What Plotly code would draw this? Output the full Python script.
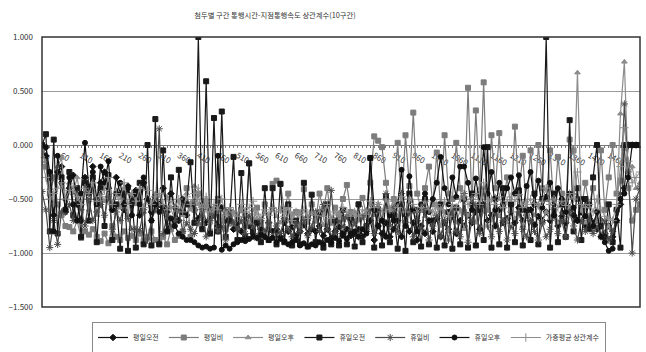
import plotly.graph_objects as go

CATS = list(range(10, 1550, 10))

S_NAMES = ["평일오전", "평일비", "평일오후", "휴일오전", "휴일비", "휴일오후", "가중평균 상관계수"]

WD_AM = [
    -0.05, -0.10, -0.30, -0.65, -0.25, -0.20, -0.62, -0.40, -0.28, -0.55,
    -0.70, -0.30, -0.45, -0.20, -0.50, -0.35, -0.25, -0.40, -0.60, -0.30,
    -0.45, -0.60, -0.38, -0.55, -0.42, -0.65, -0.35, -0.50, -0.62, -0.48,
    -0.55, -0.40, -0.62, -0.45, -0.58, -0.70, -0.50, -0.65, -0.55, -0.60,
    -0.68, -0.55, -0.72, -0.60, -0.65, -0.75, -0.58, -0.70, -0.62, -0.78,
    -0.72, -0.80, -0.66, -0.75, -0.82, -0.70, -0.78, -0.85, -0.72, -0.80,
    -0.78, -0.85, -0.72, -0.80, -0.76, -0.84, -0.80, -0.74, -0.82, -0.78,
    -0.80, -0.75, -0.84, -0.78, -0.86, -0.80, -0.76, -0.82, -0.78, -0.84,
    -0.82, -0.78, -0.85, -0.80, -0.70, -0.88, -0.75, -0.82, -0.72, -0.85,
    -0.78, -0.70, -0.85, -0.65, -0.80, -0.72, -0.88, -0.75, -0.82, -0.70,
    -0.80, -0.68, -0.85, -0.72, -0.78, -0.66, -0.82, -0.70, -0.75, -0.65,
    -0.72, -0.62, -0.78, -0.55, -0.70, -0.65, -0.75, -0.60, -0.72, -0.68,
    -0.62, -0.72, -0.58, -0.70, -0.65, -0.60, -0.74, -0.66, -0.70, -0.62,
    -0.70, -0.60, -0.75, -0.66, -0.72, -0.58, -0.65, -0.70, -0.62, -0.75,
    -0.68, -0.72, -0.78, -0.70, -0.82, -0.75, -0.85, -0.70, -0.55, -0.40,
    0.00, 0.00, 0.00, 0.00,
]

WD_OFF = [
    -0.05, -0.20, -0.45, -0.30, -0.55, -0.65, -0.75, -0.76, -0.80, -0.70,
    -0.86, -0.80, -0.83, -0.78, -0.85, -0.89, -0.82, -0.91, -0.75, -0.85,
    -0.88, -0.80, -0.86, -0.84, -0.88, -0.82, -0.89, -0.85, -0.80, -0.88,
    -0.90, -0.85, -0.92, -0.78, -0.88, -0.84, -0.80, -0.40, -0.85, -0.60,
    -0.45, -0.75, -0.55, -0.80, -0.62, -0.50, -0.70, -0.78, -0.65, -0.72,
    -0.68, -0.60, -0.75, -0.17, -0.70, -0.58, -0.72, -0.55, -0.75, -0.36,
    -0.33, -0.36, -0.60, -0.45, -0.70, -0.62, -0.75, -0.41, -0.68, -0.55,
    -0.70, -0.45, -0.60, -0.40, -0.72, -0.58, -0.65, -0.50, -0.37, -0.62,
    -0.70, -0.55, -0.49, -0.65, -0.35, 0.08, 0.04, -0.02, -0.35, -0.60,
    -0.50, 0.02, -0.55, 0.09, -0.38, 0.30, -0.45, -0.60, -0.40, -0.20,
    -0.55, -0.07, -0.60, 0.09, -0.45, -0.50, 0.02, -0.40, -0.62, 0.53,
    -0.55, 0.32, -0.45, 0.58, -0.60, 0.09, -0.40, 0.11, -0.55, -0.30,
    -0.60, 0.17, -0.45, -0.10, -0.65, -0.05, -0.55, 0.00, -0.40, -0.50,
    -0.05, -0.60, -0.11, -0.45, -0.55, 0.05, -0.05, -0.50, -0.60, -0.35,
    -0.55, -0.40, -0.70, -0.05, -0.60, -0.30, 0.00, -0.45, -0.33, -0.03,
    -0.40, -0.70, -0.60, -0.55,
]

WD_PM = [
    -0.10, -0.15, -0.40, -0.55, -0.20, -0.12, -0.50, -0.35, -0.45, -0.30,
    -0.55, -0.35, -0.60, -0.40, -0.65, -0.45, -0.52, -0.38, -0.60, -0.42,
    -0.58, -0.40, -0.65, -0.45, -0.55, -0.48, -0.62, -0.50, -0.60, -0.45,
    -0.55, -0.62, -0.48, -0.58, -0.70, -0.52, -0.65, -0.45, -0.60, -0.38,
    -0.55, -0.68, -0.50, -0.72, -0.58, -0.52, -0.66, -0.60, -0.74, -0.62,
    -0.70, -0.58, -0.65, -0.72, -0.60, -0.68, -0.74, -0.62, -0.70, -0.58,
    -0.66, -0.72, -0.60, -0.70, -0.64, -0.75, -0.62, -0.68, -0.72, -0.60,
    -0.70, -0.65, -0.74, -0.60, -0.68, -0.72, -0.63, -0.70, -0.66, -0.74,
    -0.62, -0.70, -0.68, -0.60, -0.55, -0.65, -0.58, -0.70, -0.50, -0.62,
    -0.55, -0.66, -0.48, -0.70, -0.52, -0.62, -0.70, -0.58, -0.66, -0.60,
    -0.70, -0.55, -0.75, -0.62, -0.80, -0.58, -0.72, -0.60, -0.78, -0.65,
    -0.60, -0.72, -0.40, -0.62, -0.55, -0.70, -0.48, -0.66, -0.58, -0.72,
    -0.55, -0.68, -0.62, -0.75, -0.58, -0.70, -0.65, -0.55, -0.72, -0.62,
    -0.68, -0.55, -0.72, -0.62, -0.70, -0.58, -0.45, 0.67, -0.60, -0.72,
    -0.65, -0.78, -0.60, -0.70, -0.82, -0.75, -0.88, -0.60, 0.29, 0.77,
    -0.30, -0.20, -0.40, -0.35,
]

HD_AM = [
    0.00, 0.10, -0.80, 0.05, -0.82, -0.30, -0.60, -0.25, -0.65, -0.40,
    -0.85, -0.35, -0.70, -0.30, -0.90, -0.40, -0.75, -0.28, -0.88, -0.55,
    -0.96, -0.45, -0.98, -0.50, -0.95, -0.35, -0.92, 0.00, -0.93, 0.24,
    -0.92, -0.05, -0.80, -0.30, -0.70, -0.23, -0.62, -0.55, -0.16, -0.72,
    1.00, -0.78, 0.59, -0.82, 0.25, -0.80, 0.31, -0.85, -0.70, -0.11,
    -0.88, -0.26, -0.85, -0.17, -0.80, -0.72, -0.90, -0.40, -0.88, -0.40,
    -0.92, -0.36, -0.90, -0.55, -0.93, -0.70, -0.92, -0.35, -0.94, -0.46,
    -0.90, -0.62, -0.95, -0.55, -0.92, -0.70, -0.93, -0.60, -0.92, -0.68,
    -0.94, -0.55, -0.90, -0.75, -0.12, -0.95, -0.60, -0.93, -0.48, -0.90,
    -0.65, -0.96, -0.55, -0.98, -0.45, -0.90, -0.60, -0.94, -0.50, -0.92,
    -0.70, -0.95, -0.55, -0.93, -0.62, -0.96, -0.58, -0.92, -0.50, -0.95,
    -0.45, -0.93, -0.60, -0.88, -0.02, -0.95, -0.50, -0.92, -0.40, -0.95,
    -0.55, -0.90, -0.42, -0.93, -0.60, -0.88, -0.45, -0.92, -0.50, 1.00,
    -0.95, -0.45, -0.90, -0.55, -0.85, 0.23, -0.80, -0.40, -0.88, -0.50,
    -0.78, -0.30, 0.00, -0.75, -0.85, -0.55, -0.90, -0.60, -0.95, 0.00,
    0.00, 0.00, 0.00, 0.00,
]

HD_OFF = [
    -0.43, -0.60, -0.95, -0.70, -0.92, -0.62, -0.62, -0.55, -0.70, -0.45,
    -0.60, -0.75, -0.50, -0.70, -0.62, -0.55, -0.65, -0.48, -0.78, -0.62,
    -0.70, -0.55, -0.68, -0.78, -0.78, -0.79, -0.60, -0.88, -0.70, -0.60,
    0.15, -0.82, -0.65, -0.75, -0.70, -0.60, -0.80, -0.72, -0.78, -0.82,
    -0.72, -0.60, -0.85, -0.70, -0.65, -0.80, -0.75, -0.88, -0.60, -0.72,
    -0.78, -0.70, -0.82, -0.65, -0.75, -0.86, -0.70, -0.80, -0.72, -0.85,
    -0.75, -0.82, -0.68, -0.78, -0.85, -0.72, -0.80, -0.70, -0.84, -0.76,
    -0.62, -0.80, -0.55, -0.78, -0.42, -0.82, -0.70, -0.76, -0.66, -0.80,
    -0.72, -0.85, -0.65, -0.78, -0.60, -0.82, -0.55, -0.70, -0.45, -0.75,
    -0.58, -0.80, -0.45, -0.72, -0.62, -0.85, -0.70, -0.78, -0.60, -0.88,
    -0.75, -0.65, -0.85, -0.70, -0.88, -0.62, -0.80, -0.85, -0.45, -0.90,
    -0.70, -0.55, -0.82, -0.40, -0.75, -0.85, -0.62, -0.80, -0.70, -0.88,
    -0.75, -0.82, -0.62, -0.78, -0.85, -0.70, -0.80, -0.88, -0.72, -0.85,
    -0.78, -0.65, -0.82, -0.70, -0.85, -0.62, -0.75, -0.88, -0.70, -0.80,
    -0.68, -0.82, -0.75, -0.85, -0.70, -0.88, -0.80, -0.72, -0.45, 0.38,
    -0.25, -1.00, -0.50, -0.40,
]

HD_PM = [
    0.00, -0.02, -0.25, -0.80, -0.10, -0.35, -0.60, -0.30, -0.55, -0.70,
    -0.45, 0.02, -0.40, -0.25, -0.55, -0.20, -0.35, -0.15, -0.60, -0.45,
    -0.35, -0.55, -0.40, -0.65, -0.45, -0.55, -0.30, -0.50, -0.70, -0.55,
    -0.62, -0.58, -0.80, -0.68, -0.75, -0.82, -0.85, -0.88, -0.88, -0.90,
    -0.93, -0.95, -0.94, -0.96, -0.95, -0.10, -0.97, -0.93, -0.96, -0.92,
    -0.90, -0.88, -0.89, -0.87, -0.85, -0.86, -0.83, -0.85, -0.88, -0.86,
    -0.90, -0.87, -0.89, -0.92, -0.90, -0.88, -0.93, -0.91, -0.94, -0.92,
    -0.93, -0.90, -0.92, -0.88, -0.90, -0.86, -0.89, -0.84, -0.87, -0.82,
    -0.80, -0.85, -0.78, -0.82, -0.12, -0.60, -0.75, -0.70, -0.85, -0.65,
    -0.70, -0.55, -0.23, -0.75, -0.29, -0.60, -0.80, -0.55, -0.45, -0.62,
    -0.50, -0.35, -0.11, -0.40, -0.55, -0.30, -0.48, -0.20, -0.20, -0.35,
    -0.60, -0.31, -0.55, -0.02, -0.45, -0.25, -0.60, -0.35, -0.55, -0.40,
    -0.30, -0.45, -0.28, -0.60, -0.38, -0.25, -0.55, -0.33, -0.58, -0.48,
    -0.35, -0.65, -0.40, -0.50, -0.62, -0.45, -0.58, -0.70, -0.50, -0.66,
    -0.55, -0.75, -0.62, -0.85, -0.90, -0.98, -0.96, -0.70, -0.50, -0.45,
    -0.30, 0.00, 0.00, 0.00,
]

WAVG = [
    -0.15, -0.30, -0.50, -0.45, -0.40, -0.35, -0.50, -0.42, -0.38, -0.48,
    -0.55, -0.40, -0.45, -0.35, -0.52, -0.48, -0.42, -0.30, -0.55, -0.45,
    -0.50, -0.35, -0.55, -0.45, -0.52, -0.40, -0.58, -0.42, -0.55, -0.48,
    -0.45, -0.55, -0.60, -0.52, -0.58, -0.50, -0.62, -0.48, -0.55, -0.45,
    -0.40, -0.58, -0.48, -0.62, -0.55, -0.60, -0.50, -0.65, -0.58, -0.62,
    -0.66, -0.55, -0.62, -0.58, -0.52, -0.64, -0.68, -0.60, -0.65, -0.58,
    -0.62, -0.60, -0.66, -0.58, -0.70, -0.62, -0.65, -0.60, -0.68, -0.62,
    -0.65, -0.60, -0.66, -0.55, -0.68, -0.62, -0.64, -0.58, -0.62, -0.66,
    -0.62, -0.66, -0.60, -0.64, -0.52, -0.58, -0.55, -0.62, -0.50, -0.60,
    -0.52, -0.58, -0.48, -0.62, -0.50, -0.55, -0.62, -0.58, -0.52, -0.60,
    -0.62, -0.55, -0.60, -0.52, -0.66, -0.55, -0.58, -0.50, -0.48, -0.55,
    -0.50, -0.45, -0.55, -0.35, -0.52, -0.50, -0.55, -0.48, -0.58, -0.52,
    -0.48, -0.52, -0.46, -0.58, -0.55, -0.50, -0.54, -0.56, -0.52, -0.40,
    -0.55, -0.50, -0.58, -0.52, -0.56, -0.45, -0.50, -0.25, -0.55, -0.58,
    -0.55, -0.62, -0.50, -0.60, -0.66, -0.68, -0.70, -0.55, -0.20, 0.16,
    -0.15, -0.35, -0.30, -0.25,
]

SERIES = [WD_AM, WD_OFF, WD_PM, HD_AM, HD_OFF, HD_PM, WAVG]
LINE_COLORS = ["#111111", "#7c7c7c", "#8c8c8c", "#1a1a1a", "#4a4a4a", "#111111", "#8c8c8c"]
SYMBOLS = ["diamond", "square", "triangle-up", "square", "asterisk-open", "circle", "cross-thin-open"]
SIZES = [5, 5, 5, 5, 6, 5, 6]
LWIDTH = [1.2, 1.2, 1.2, 1.2, 1.2, 1.2, 1.0]

FONT = "Noto Sans CJK KR, Dotum, sans-serif"

fig = go.Figure()
for name, vals, col, sym, sz, lw in zip(S_NAMES, SERIES, LINE_COLORS, SYMBOLS, SIZES, LWIDTH):
    fig.add_trace(go.Scatter(
        x=CATS, y=vals, name=name, mode="lines+markers",
        line=dict(color=col, width=lw),
        marker=dict(symbol=sym, size=sz, color=col, line=dict(color=col, width=1)),
    ))

fig.update_layout(
    width=646, height=352,
    margin=dict(l=42, r=6, t=37, b=45, autoexpand=False),
    paper_bgcolor="white", plot_bgcolor="white",
    font=dict(family=FONT, size=9, color="#333333"),
    title=dict(text="첨두별 구간 통행시간-지점통행속도 상관계수(10구간)",
               x=275 / 646, xanchor="center", xref="container", y=1 - 15 / 352, yanchor="middle",
               yref="container",
               font=dict(family=FONT, size=7.3, color="#333333")),
    showlegend=True,
    legend=dict(orientation="h", x=(349 - 42) / 598, xanchor="center",
                y=-(322 - 307) / 270, yanchor="top",
                bordercolor="#888888", borderwidth=1,
                font=dict(family=FONT, size=7, color="#333333"),
                itemwidth=30, tracegroupgap=0),
    shapes=[dict(type="rect", xref="paper", yref="paper", x0=0, x1=1, y0=0, y1=1,
                 line=dict(color="#333333", width=1.5), layer="above")],
)

fig.update_yaxes(range=[-1.5, 1.0], dtick=0.5, tick0=0, tickformat=".3f",
                 showgrid=True, gridcolor="#9a9a9a", gridwidth=1,
                 zeroline=False, showline=False, ticks="", ticklabelstandoff=8,
                 tickfont=dict(family=FONT, size=8, color="#333333"))

fig.update_xaxes(range=[10, 1540], tick0=10, dtick=50, anchor="free", position=0.6,
                 showgrid=False, zeroline=False, showline=True, linecolor="#777777", linewidth=1,
                 ticks="outside", ticklen=2, tickcolor="#777777",
                 minor=dict(dtick=10, tick0=10, ticks="outside", ticklen=2, tickcolor="#777777", showgrid=False),
                 layer="below traces",
                 tickfont=dict(family=FONT, size=8, color="#333333"))

fig.write_html("out.html", config={"displayModeBar": False},
               post_script="document.body.style.margin='0';")
